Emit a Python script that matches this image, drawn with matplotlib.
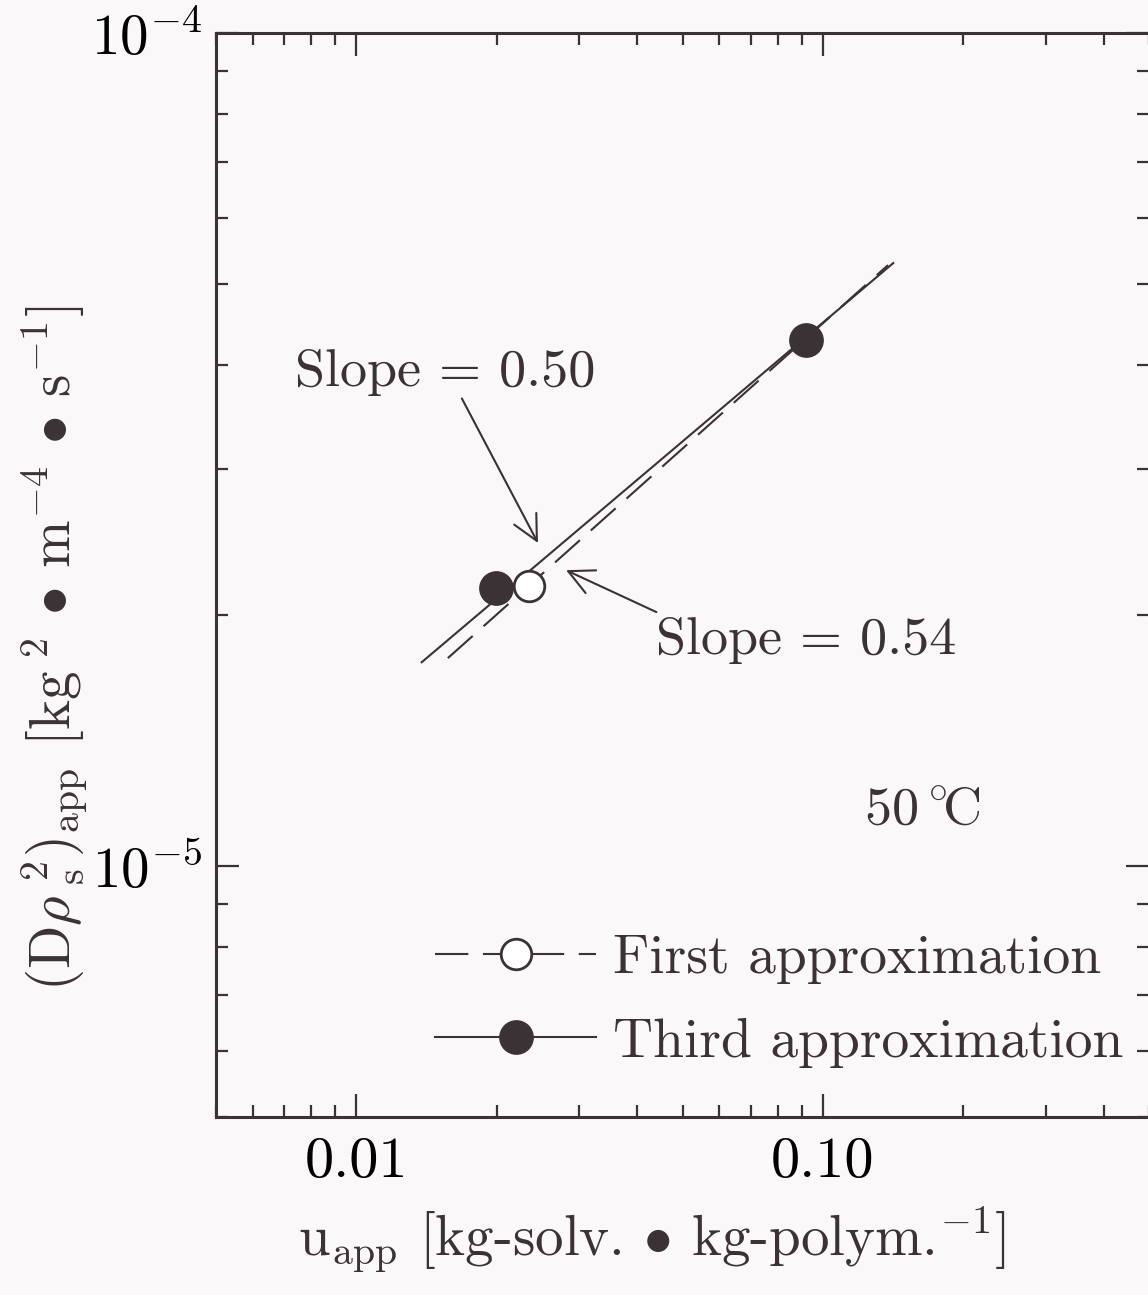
import matplotlib.pyplot as plt
from matplotlib.legend_handler import HandlerTuple

# data (50 C)
first_u = [0.0234]
first_D = [2.17e-5]
third_u = [0.0199, 0.0919]
third_D = [2.16e-5, 4.28e-5]

# fitted lines (end points)
first_fit_u = [0.0157, 0.1379]
first_fit_D = [1.777e-5, 5.266e-5]
third_fit_u = [0.0138, 0.1415]
third_fit_D = [1.757e-5, 5.295e-5]

xticks = [0.01, 0.1]
xticklabels = ['0.01', '0.10']
yticks = [1e-5, 1e-4]
yticklabels = [r'$10^{-5}$', r'$10^{-4}$']

ink = '#3b3236'
bg = '#fbf8f9'

plt.rcParams['font.family'] = ['cmr10', 'Noto Sans CJK JP']
plt.rcParams['mathtext.fontset'] = 'cm'
plt.rcParams['axes.unicode_minus'] = False
plt.rcParams['text.color'] = ink

W, H = 1148, 1295
fig = plt.figure(figsize=(W / 100, H / 100), dpi=100, facecolor=bg)
# axes box in pixels: left 216, right 1149, top 33, bottom 1117
L, R, T, B = 216, 1149, 33, 1117
ax = fig.add_axes([L / W, 1 - B / H, (R - L) / W, (B - T) / H])
ax.set_facecolor(bg)
ax.set_xscale('log')
ax.set_yscale('log')
ax.set_xlim(0.005, 0.5)
ax.set_ylim(5e-6, 1e-4)

# fitted lines
l1, = ax.plot(first_fit_u, first_fit_D, color=ink, lw=1.5, ls=(0, (16, 7)))
l3, = ax.plot(third_fit_u, third_fit_D, color=ink, lw=1.5)

# points
p3, = ax.plot(third_u, third_D, 'o', ms=24, color=ink, mec=ink, zorder=5)
p1, = ax.plot(first_u, first_D, 'o', ms=22, mfc='white', mec=ink, mew=2, zorder=6)

# slope annotations
ax.annotate('Slope = 0.50', xy=(0.0245, 2.443e-5), xytext=(0.00739, 3.917e-5),
            fontsize=39, va='center', ha='left',
            arrowprops=dict(arrowstyle='->', color=ink, lw=1.5, mutation_scale=45,
                            shrinkA=0, shrinkB=0, relpos=(0.55, 0.0)))
ax.annotate('Slope = 0.54', xy=(0.02814, 2.266e-5), xytext=(0.04395, 1.867e-5),
            fontsize=39, va='center', ha='left',
            arrowprops=dict(arrowstyle='->', color=ink, lw=1.5, mutation_scale=45,
                            shrinkA=0, shrinkB=0, relpos=(0.0, 1.1)))
ax.text(0.1225, 1.167e-5, r'50$\,^{\circ}\!$C', fontsize=39, va='center', ha='left')

# legend
ax.legend([(l1, p1), (l3, p3)], ['First approximation', 'Third approximation'],
          handler_map={tuple: HandlerTuple(ndivide=1)},
          loc='center left', bbox_to_anchor=((435 - L) / (R - L), (B - 1001) / (B - T)),
          frameon=False, fontsize=40, handlelength=2.9, handletextpad=0.3,
          labelspacing=0.6, borderpad=0, borderaxespad=0, numpoints=1)

# ticks
ax.set_xticks(xticks)
ax.set_xticklabels(xticklabels, fontsize=42)
ax.set_yticks(yticks)
ax.set_yticklabels(yticklabels, fontsize=41)
ax.tick_params(which='both', direction='in', top=True, right=True, color=ink, width=1.6)
ax.tick_params(which='major', length=16.5, pad=14)
ax.tick_params(axis='y', which='major', pad=10)
ax.tick_params(which='minor', length=8.3, labelbottom=False, labelleft=False)
for s in ax.spines.values():
    s.set_color(ink)
    s.set_linewidth(2.2)

# axis titles
fig.text(652 / W, 1 - 1240 / H,
         r'$\mathrm{u_{app}}$ [kg-solv. $\bullet$ kg-polym.$^{-1}$]',
         fontsize=41, ha='center', va='center')
fig.text(55 / W, 1 - 648 / H,
         r'$(\mathrm{D}\rho_{\ \mathrm{s}}^{\ 2})_{\mathrm{app}}$ [kg$^{\ 2}$ $\bullet$ m$^{-4}$ $\bullet$ s$^{-1}$]',
         fontsize=41, ha='center', va='center', rotation=90)

plt.savefig('out.png', dpi=100, facecolor=bg)
